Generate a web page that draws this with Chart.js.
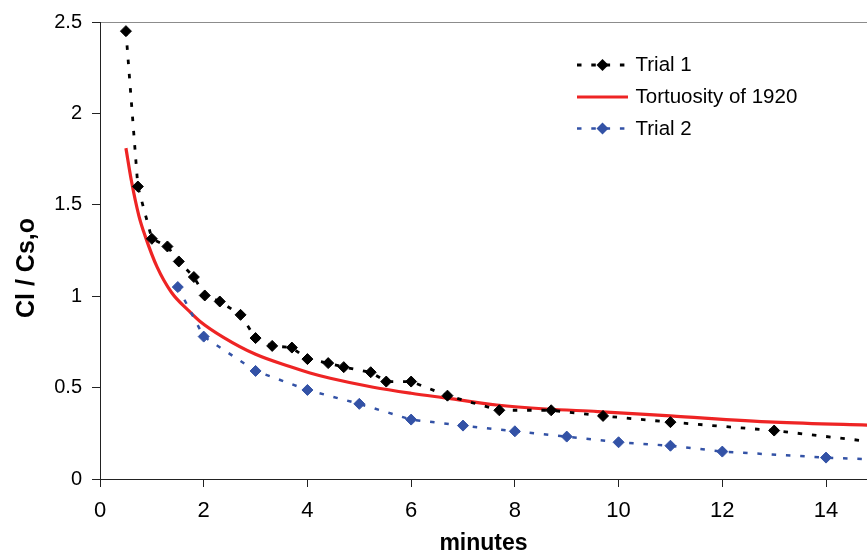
<!DOCTYPE html>
<html>
<head>
<meta charset="utf-8">
<script src="https://cdn.jsdelivr.net/npm/chart.js@4.4.1/dist/chart.umd.min.js"></script>
<style>
  html, body { margin: 0; padding: 0; background: #ffffff; }
  #wrap { width: 867px; height: 555px; }
</style>
</head>
<body>
<div id="wrap"><canvas id="chart" width="867" height="555"></canvas></div>
<script>
// Measured concentration ratio Cl / Cs,o against elapsed time (minutes)
const trial1Minutes = [0.5, 0.73, 1.0, 1.3, 1.52, 1.81, 2.02, 2.31, 2.71, 3.0, 3.32, 3.7, 4.0, 4.4, 4.7, 5.22, 5.52, 6.0, 6.7, 7.7, 8.7, 9.7, 11, 13, 15];
const trial1Ratio   = [2.45, 1.6, 1.314, 1.272, 1.19, 1.105, 1.004, 0.971, 0.898, 0.771, 0.728, 0.719, 0.656, 0.634, 0.612, 0.584, 0.533, 0.533, 0.456, 0.376, 0.376, 0.345, 0.311, 0.265, 0.2];

const trial2Minutes = [1.5, 2, 3, 4, 5, 6, 7, 8, 9, 10, 11, 12, 14, 15];
const trial2Ratio   = [1.05, 0.779, 0.591, 0.487, 0.411, 0.325, 0.292, 0.261, 0.232, 0.201, 0.182, 0.15, 0.117, 0.106];

// Model curve for a tortuosity of 1920
const tortMinutes = [0.5, 0.6, 0.75, 0.87, 1.1, 1.38, 1.73, 1.93, 2.38, 3.0, 3.66, 4.05, 4.44, 5.27, 6.0, 6.7, 7.65, 8.6, 9.6, 11, 13, 15];
const tortRatio   = [1.81, 1.64, 1.44, 1.33, 1.16, 1.02, 0.915, 0.862, 0.775, 0.682, 0.615, 0.58, 0.551, 0.502, 0.469, 0.442, 0.405, 0.383, 0.369, 0.345, 0.311, 0.293];

const xTickValues = [0, 2, 4, 6, 8, 10, 12, 14];
const yTickValues = [0, 0.5, 1, 1.5, 2, 2.5];

const seriesNames = ['Trial 1', 'Tortuosity of 1920', 'Trial 2'];
const xTitle = 'minutes';
const yTitle = 'Cl / Cs,o';

const FONT = "'Liberation Sans', Arial, Helvetica, sans-serif";
const BLACK = '#000000';
const RED = '#ee2424';
const BLUE = '#3352a6';
const DASH = [4.5, 9.8];

const toPoints = (xs, ys) => xs.map((x, i) => ({ x: x, y: ys[i] }));

// Vertical axis title, placed beside the tick labels
const yTitlePlugin = {
  id: 'yTitle',
  afterDraw(chart) {
    const ctx = chart.ctx;
    ctx.save();
    ctx.translate(34, 268);
    ctx.rotate(-Math.PI / 2);
    ctx.font = "bold 25px " + FONT;
    ctx.fillStyle = BLACK;
    ctx.textAlign = 'center';
    ctx.textBaseline = 'alphabetic';
    ctx.fillText(yTitle, 0, 0);
    ctx.restore();
  }
};

function drawDiamond(ctx, x, y, r, color) {
  ctx.beginPath();
  ctx.moveTo(x - r, y);
  ctx.lineTo(x, y - r);
  ctx.lineTo(x + r, y);
  ctx.lineTo(x, y + r);
  ctx.closePath();
  ctx.fillStyle = color;
  ctx.fill();
}

// Legend inside the plot: line sample with marker, then the series name
const legendPlugin = {
  id: 'insideLegend',
  afterDraw(chart) {
    const ctx = chart.ctx;
    const rows = [
      { name: seriesNames[0], color: BLACK, dash: DASH, width: 2.8, marker: true, y: 65 },
      { name: seriesNames[1], color: RED, dash: [], width: 3.2, marker: false, y: 97 },
      { name: seriesNames[2], color: BLUE, dash: DASH, width: 2.5, marker: true, y: 128.5 }
    ];
    const x0 = 577, x1 = 628, tx = 635.5;
    rows.forEach(r => {
      ctx.save();
      ctx.strokeStyle = r.color;
      ctx.lineWidth = r.width;
      ctx.setLineDash(r.dash);
      ctx.beginPath();
      ctx.moveTo(x0, r.y);
      ctx.lineTo(x1, r.y);
      ctx.stroke();
      ctx.setLineDash([]);
      if (r.marker) drawDiamond(ctx, (x0 + x1) / 2, r.y, 6, r.color);
      ctx.font = "20.5px " + FONT;
      ctx.fillStyle = BLACK;
      ctx.textAlign = 'left';
      ctx.textBaseline = 'middle';
      ctx.fillText(r.name, tx, r.y + 0.5);
      ctx.restore();
    });
  }
};

new Chart(document.getElementById('chart'), {
  type: 'line',
  data: {
    datasets: [
      {
        label: seriesNames[0],
        data: toPoints(trial1Minutes, trial1Ratio),
        borderColor: BLACK,
        backgroundColor: BLACK,
        borderWidth: 2.8,
        borderDash: DASH,
        pointStyle: 'rectRot',
        pointRadius: 5.5,
        pointBorderWidth: 1,
        pointBackgroundColor: BLACK,
        pointBorderColor: BLACK,
        tension: 0,
        order: 1
      },
      {
        label: seriesNames[1],
        data: toPoints(tortMinutes, tortRatio),
        borderColor: RED,
        backgroundColor: RED,
        borderWidth: 3.2,
        pointRadius: 0,
        cubicInterpolationMode: 'monotone',
        order: 3
      },
      {
        label: seriesNames[2],
        data: toPoints(trial2Minutes, trial2Ratio),
        borderColor: BLUE,
        backgroundColor: BLUE,
        borderWidth: 2.5,
        borderDash: DASH,
        pointStyle: 'rectRot',
        pointRadius: 5.5,
        pointBorderWidth: 1,
        pointBackgroundColor: BLUE,
        pointBorderColor: BLUE,
        tension: 0,
        order: 2
      }
    ]
  },
  options: {
    responsive: false,
    devicePixelRatio: 1,
    animation: false,
    layout: { autoPadding: false, padding: { top: 22, right: 0, bottom: 0, left: 0 } },
    plugins: {
      legend: { display: false },
      tooltip: { enabled: false },
      title: { display: false }
    },
    scales: {
      x: {
        type: 'linear',
        min: 0,
        max: 14.79,
        afterBuildTicks: s => { s.ticks = xTickValues.map(v => ({ value: v })); },
        afterFit: s => { s.height = 76; s.paddingRight = 0; s.paddingLeft = 0; },
        ticks: {
          color: BLACK,
          font: { family: FONT, size: 22 },
          padding: 11,
          maxRotation: 0,
          autoSkip: false,
          callback: v => String(v)
        },
        grid: {
          drawOnChartArea: false,
          drawTicks: true,
          tickLength: 8,
          tickColor: '#222222',
          color: 'rgba(0,0,0,0)'
        },
        border: { display: true, color: '#222222', width: 1 },
        title: {
          display: true,
          text: xTitle,
          color: BLACK,
          font: { family: FONT, size: 23, weight: 'bold', lineHeight: 0.96 },
          padding: { top: 0, bottom: 0 }
        }
      },
      y: {
        type: 'linear',
        min: 0,
        max: 2.5,
        afterBuildTicks: s => { s.ticks = yTickValues.map(v => ({ value: v })); },
        afterFit: s => { s.width = 100; },
        ticks: {
          color: BLACK,
          font: { family: FONT, size: 20 },
          padding: 10,
          callback: v => String(v)
        },
        grid: {
          drawOnChartArea: true,
          drawTicks: true,
          tickLength: 8,
          tickColor: '#222222',
          color: c => (c.tick && c.tick.value === 2.5) ? '#8c8c8c' : 'rgba(0,0,0,0)',
          lineWidth: 1
        },
        border: { display: true, color: '#222222', width: 1 }
      }
    }
  },
  plugins: [yTitlePlugin, legendPlugin]
});
</script>
</body>
</html>
